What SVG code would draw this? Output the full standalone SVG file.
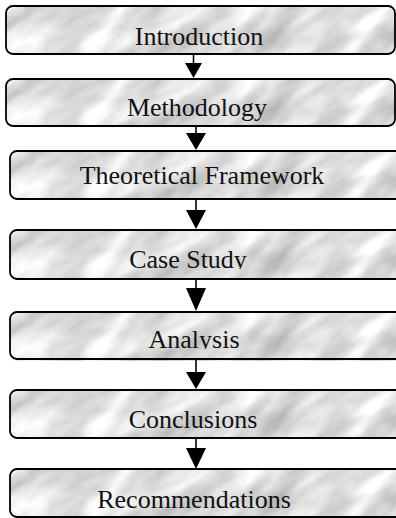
<svg xmlns="http://www.w3.org/2000/svg" xmlns:xlink="http://www.w3.org/1999/xlink" width="396" height="518" viewBox="0 0 396 518">
  <style>
    .box { fill: none; stroke: #000; stroke-width: 1.8; }
    .label { font-family: "Liberation Serif", "Times New Roman", serif; font-size: 26px; fill: #111; text-anchor: middle; }
    .wire { stroke: #000; stroke-width: 1.6; fill: none; }
    .head { fill: #000; stroke: none; }
  </style>
  <defs>
    <!-- soft grey marble fill: mottled fractal noise, rotated so the veins run diagonally -->
    <filter id="marble" x="0" y="0" width="1" height="1" color-interpolation-filters="sRGB">
      <feTurbulence type="fractalNoise" baseFrequency="0.014 0.04" numOctaves="4" seed="11" result="n"/>
      <feGaussianBlur in="n" stdDeviation="1" result="s"/>
      <feColorMatrix in="s" type="matrix" values="0.5 0 0 0 0.62  0.5 0 0 0 0.62  0.5 0 0 0 0.62  0 0 0 0 1"/>
    </filter>
    <g id="tex">
      <rect x="-100" y="-180" width="600" height="410" transform="rotate(-35 200 24)" fill="#ddd" filter="url(#marble)"/>
    </g>
    <clipPath id="clipA"><rect x="0" y="0" width="389" height="48" rx="7"/></clipPath>
    <clipPath id="clipB"><rect x="0" y="0" width="400" height="49" rx="7"/></clipPath>
    <!-- labels whose descenders are cut at the baseline -->
    <clipPath id="cutCase"><rect x="0" y="0" width="400" height="39"/></clipPath>
    <clipPath id="cutAnalysis"><rect x="0" y="0" width="400" height="37"/></clipPath>
  </defs>

  <g id="introduction" transform="translate(6,6)">
    <g clip-path="url(#clipA)"><use xlink:href="#tex"/></g>
    <rect class="box" width="389" height="48" rx="7"/>
    <text class="label" x="193" y="39">Introduction</text>
  </g>

  <g id="methodology" transform="translate(6,79)">
    <g clip-path="url(#clipA)"><use xlink:href="#tex"/></g>
    <rect class="box" width="389" height="47" rx="7"/>
    <text class="label" x="191" y="37">Methodology</text>
  </g>

  <g id="theoretical-framework" transform="translate(10,151)">
    <g clip-path="url(#clipB)"><use xlink:href="#tex"/></g>
    <rect class="box" width="400" height="48" rx="7"/>
    <text class="label" x="192" y="33">Theoretical Framework</text>
  </g>

  <g id="case-study" transform="translate(10,230)">
    <g clip-path="url(#clipB)"><use xlink:href="#tex"/></g>
    <rect class="box" width="400" height="49" rx="7"/>
    <text class="label" x="178" y="38" clip-path="url(#cutCase)">Case Study</text>
  </g>

  <g id="analysis" transform="translate(10,312)">
    <g clip-path="url(#clipB)"><use xlink:href="#tex"/></g>
    <rect class="box" width="400" height="47" rx="7"/>
    <text class="label" x="184" y="36" clip-path="url(#cutAnalysis)">Analysis</text>
  </g>

  <g id="conclusions" transform="translate(10,390)">
    <g clip-path="url(#clipB)"><use xlink:href="#tex"/></g>
    <rect class="box" width="400" height="48" rx="7"/>
    <text class="label" x="183" y="38">Conclusions</text>
  </g>

  <g id="recommendations" transform="translate(10,469)">
    <g clip-path="url(#clipB)"><use xlink:href="#tex"/></g>
    <rect class="box" width="400" height="48" rx="7"/>
    <text class="label" x="184" y="39">Recommendations</text>
  </g>

  <g id="connectors">
    <line class="wire" x1="193.5" y1="54" x2="193.5" y2="64"/>
    <polygon class="head" points="185,63 202,63 193.5,78"/>
    <line class="wire" x1="196" y1="126" x2="196" y2="134"/>
    <polygon class="head" points="186,133 206,133 196,150"/>
    <line class="wire" x1="196" y1="199" x2="196" y2="211"/>
    <polygon class="head" points="186,210 206,210 196,229"/>
    <line class="wire" x1="196" y1="279" x2="196" y2="289"/>
    <polygon class="head" points="186,288 206,288 196,311"/>
    <line class="wire" x1="196" y1="359" x2="196" y2="373"/>
    <polygon class="head" points="186,372 206,372 196,389"/>
    <line class="wire" x1="196" y1="438" x2="196" y2="449"/>
    <polygon class="head" points="186,448 206,448 196,469"/>
  </g>
</svg>
